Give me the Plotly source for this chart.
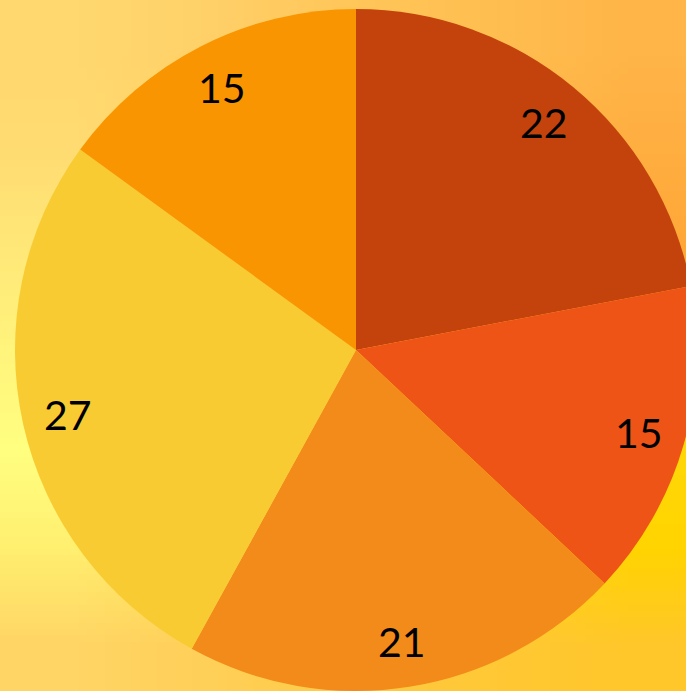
import base64, math, struct, zlib
import plotly.graph_objects as go

# ---- data ----
labels = ["A", "B", "C", "D", "E"]
values = [22, 15, 21, 27, 15]
colors = ["#C4430D", "#EF5417", "#F38B1A", "#F9CB32", "#F99500"]

# ---- background gradient (sunset) as a tiny stretched PNG ----
bg_grid = [
    ["#FFD870", "#FFD068", "#FFC65A", "#FFBE50", "#FFB548"],
    ["#FFDC72", "#FFD264", "#FFC456", "#FFB846", "#FFAE40"],
    ["#FFE878", "#FFD862", "#FFC24E", "#FFB23E", "#FFA838"],
    ["#FFF47C", "#FFE466", "#FFCA44", "#FFC034", "#FFC028"],
    ["#FFFF80", "#FFEC66", "#FFD638", "#FFD418", "#FFD808"],
    ["#FFF070", "#FFE460", "#FFD636", "#FFD814", "#FFD400"],
    ["#FFD565", "#FFD058", "#FFCA44", "#FFC834", "#FFC72A"],
]


def png_data_uri(grid):
    h = len(grid)
    w = len(grid[0])
    raw = b""
    for row in grid:
        raw += b"\x00"
        for c in row:
            raw += bytes(int(c[i:i + 2], 16) for i in (1, 3, 5))

    def chunk(tag, data):
        return (struct.pack(">I", len(data)) + tag + data +
                struct.pack(">I", zlib.crc32(tag + data) & 0xFFFFFFFF))

    png = b"\x89PNG\r\n\x1a\n"
    png += chunk(b"IHDR", struct.pack(">IIBBBBB", w, h, 8, 2, 0, 0, 0))
    png += chunk(b"IDAT", zlib.compress(raw))
    png += chunk(b"IEND", b"")
    return "data:image/png;base64," + base64.b64encode(png).decode()


W, H = 698, 691
cx, cy, R = 356, 350, 341  # pie geometry in px

fig = go.Figure(go.Pie(
    labels=labels,
    values=values,
    marker=dict(colors=colors, line=dict(width=0)),
    sort=False,
    direction="clockwise",
    rotation=0,
    textinfo="none",
    hoverinfo="label+value",
    showlegend=False,
    domain=dict(x=[(cx - R) / W, (cx + R) / W], y=[(H - cy - R) / H, (H - cy + R) / H]),
))

# value labels placed at mid-angle of each slice
total = sum(values)
cum = 0
annotations = []
for v in values:
    mid = (cum + v / 2) / total * 2 * math.pi
    cum += v
    r = 0.865 * R
    px = cx + r * math.sin(mid)
    py = cy - r * math.cos(mid)
    annotations.append(dict(
        x=px / W, y=1 - py / H, xref="paper", yref="paper",
        text=str(v), showarrow=False,
        font=dict(family="Lato, 'Open Sans', sans-serif", size=41, color="#000000"),
        xanchor="center", yanchor="middle",
    ))

fig.update_layout(
    width=W, height=H,
    margin=dict(l=0, r=0, t=0, b=0),
    paper_bgcolor="#FFD060",
    plot_bgcolor="rgba(0,0,0,0)",
    annotations=annotations,
    images=[dict(
        source=png_data_uri(bg_grid), xref="paper", yref="paper",
        x=0, y=1, sizex=1, sizey=1, sizing="stretch",
        xanchor="left", yanchor="top", layer="below",
    )],
)

fig.write_html(
    "out.html",
    config={"displayModeBar": False},
    post_script="document.body.style.margin='0';document.body.style.overflow='hidden';document.documentElement.style.overflow='hidden';",
)
